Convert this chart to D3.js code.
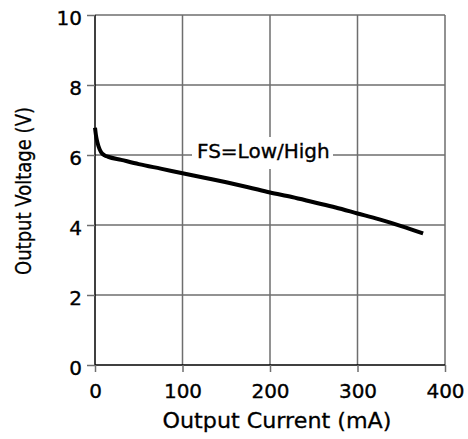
<!DOCTYPE html>
<html><head><meta charset="utf-8">
<script src="https://cdn.jsdelivr.net/npm/d3@7/dist/d3.min.js"></script>
<style>body{margin:0;background:#fff}svg{display:block}text{font-family:"DejaVu Sans",sans-serif;fill:#000}</style>
</head><body><svg id="c" width="468" height="439"></svg>
<script>
const xTicks = [0, 100, 200, 300, 400];
const yTicks = [0, 2, 4, 6, 8, 10];
const currentMA = [0, 1, 2, 4, 7, 11, 15, 30, 50, 75, 100, 125, 150, 175, 200, 225, 250, 275, 300, 325, 350, 375];
const voltageV = [6.78, 6.58, 6.44, 6.25, 6.08, 5.99, 5.95, 5.86, 5.74, 5.61, 5.48, 5.35, 5.22, 5.08, 4.93, 4.8, 4.65, 4.5, 4.33, 4.16, 3.97, 3.76];
const labelText = "FS=Low/High";
const xTitle = "Output Current (mA)";
const yTitle = "Output Voltage (V)";

const svg = d3.select("#c");
const x = d3.scaleLinear().domain([0, 400]).range([95, 445]);
const y = d3.scaleLinear().domain([0, 10]).range([365, 15]);

// grid
svg.append("g").selectAll("line").data(xTicks.filter(d => d > 0)).join("line")
  .attr("x1", d => x(d)).attr("x2", d => x(d)).attr("y1", y(0)).attr("y2", y(10))
  .attr("stroke", "#6e6e6e").attr("stroke-width", 1.5);
svg.append("g").selectAll("line").data(yTicks.filter(d => d > 0)).join("line")
  .attr("x1", x(0)).attr("x2", x(400)).attr("y1", d => y(d)).attr("y2", d => y(d))
  .attr("stroke", "#6e6e6e").attr("stroke-width", 1.5);

// axes
const xAxis = svg.append("g").attr("transform", `translate(0,${y(0)})`)
  .call(d3.axisBottom(x).tickValues(xTicks).tickSize(7).tickPadding(5).tickFormat(d3.format("d")));
const yAxis = svg.append("g").attr("transform", `translate(${x(0)},0)`)
  .call(d3.axisLeft(y).tickValues(yTicks).tickSize(8).tickPadding(5).tickFormat(d3.format("d")));
[xAxis, yAxis].forEach(a => {
  a.select(".domain").attr("stroke", "#000").attr("stroke-width", 1.5);
  a.selectAll(".tick line").attr("stroke", "#6e6e6e").attr("stroke-width", 1.5);
  a.selectAll("text").attr("font-family", "DejaVu Sans").attr("font-size", 20).attr("fill", "#000")
    .attr("stroke", "#000").attr("stroke-width", 0.35);
});
yAxis.select(".domain").attr("d", `M0,${y(0)}V${y(10)}`);
xAxis.select(".domain").attr("d", `M${x(0)},0H${x(400)}`);
yAxis.selectAll(".tick text").attr("dy", "0.45em");
xAxis.selectAll(".tick text").attr("dy", "1.05em");

// label knockout
svg.append("rect").attr("x", 192).attr("y", 137).attr("width", 141).attr("height", 32).attr("fill", "#fff");
svg.append("text").attr("x", 197).attr("y", 158).attr("font-size", 20)
  .attr("stroke", "#000").attr("stroke-width", 0.35).text(labelText);

// curve
svg.append("path").datum(currentMA.map((c, i) => [c, voltageV[i]]))
  .attr("fill", "none").attr("stroke", "#000").attr("stroke-width", 4)
  .attr("stroke-linejoin", "round")
  .attr("d", d3.line().x(d => x(d[0])).y(d => y(d[1])).curve(d3.curveMonotoneX));

// titles
svg.append("text").attr("x", 277).attr("y", 428).attr("text-anchor", "middle").attr("font-size", 21)
  .attr("textLength", 229).attr("lengthAdjust", "spacingAndGlyphs")
  .attr("stroke", "#000").attr("stroke-width", 0.3).text(xTitle);
svg.append("text").attr("transform", "translate(31,191) rotate(-90)").attr("text-anchor", "middle").attr("font-size", 21)
  .attr("textLength", 168).attr("lengthAdjust", "spacingAndGlyphs")
  .attr("stroke", "#000").attr("stroke-width", 0.3).text(yTitle);
</script></body></html>
